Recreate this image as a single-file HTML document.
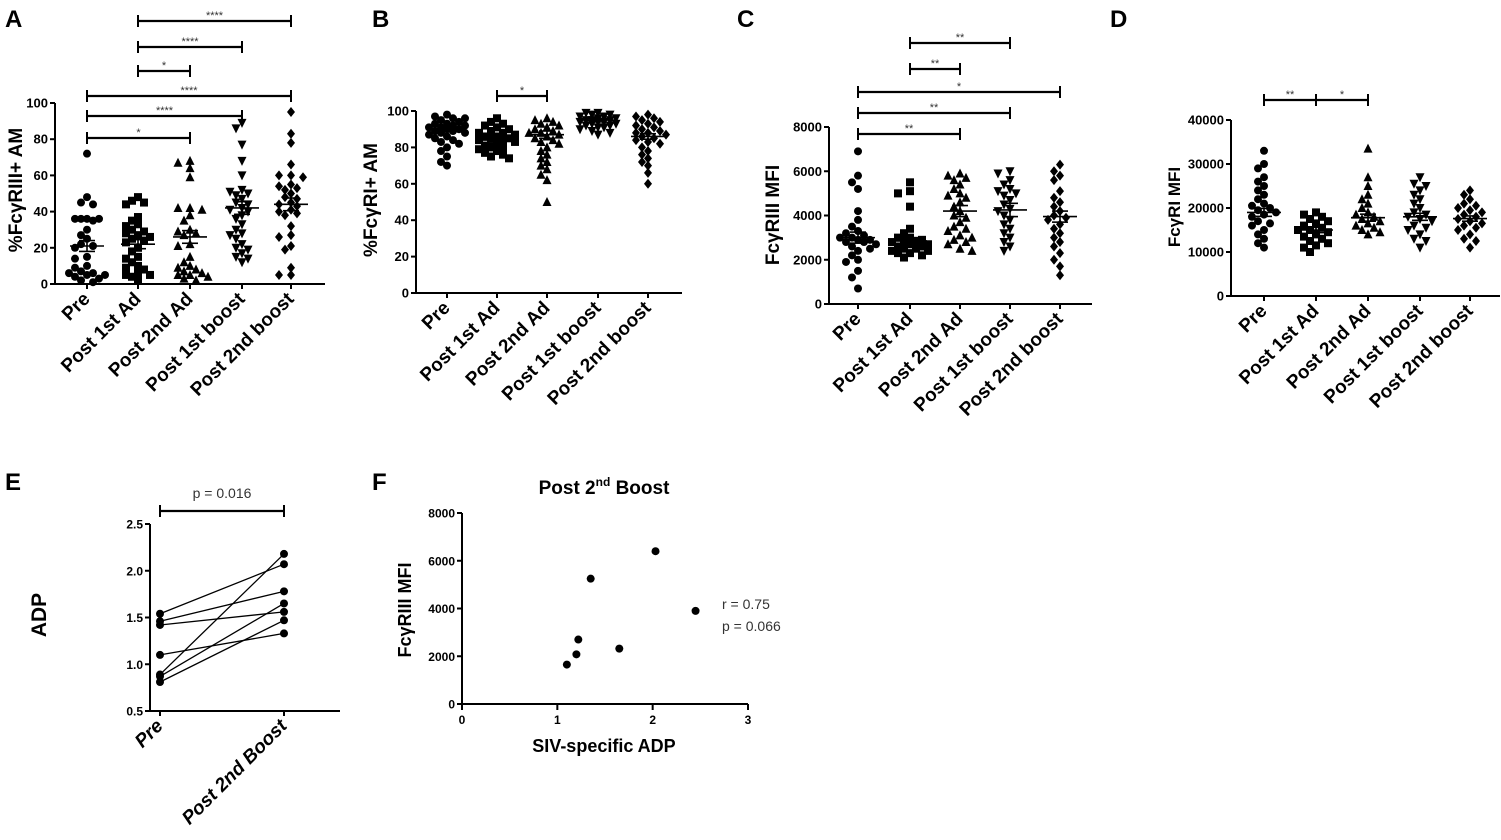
<!DOCTYPE html>
<html><head><meta charset="utf-8"><style>
body{margin:0;background:#fff}
svg{display:block;font-family:"Liberation Sans",sans-serif}
</style></head><body>
<svg id="fig" width="1501" height="840" viewBox="0 0 1501 840"></svg>
<script>
// ---------- data ----------
const catsABCD = ["Pre","Post 1st Ad","Post 2nd Ad","Post 1st boost","Post 2nd boost"];
const aPre=[72,48,45,44,36,36,36,36,35,30,27,25,22,21,20,15,14,10,9,7,6,6,5,5,4,3,2,1];
const aP1=[48,46,45,44,37,35,33,32,30,29,28,27,26,25,24,23,20,18,15,14,12,10,9,8,6,5,5,4,2];
const aP2=[68,67,64,59,42,42,41,38,35,30,29,28,27,22,21,15,12,10,9,8,7,6,5,5,4,3,2];
const aB1=[89,86,77,68,60,52,51,50,49,47,45,44,42,41,40,38,36,33,30,28,27,25,22,20,19,17,15,14,12];
const aB2=[95,83,78,66,60,60,59,55,54,53,52,50,48,47,45,44,43,41,40,39,38,32,27,26,21,19,9,5,5];
const aMean=[21,22,26,42,44]; const aSem=[3,2.5,3.5,3.5,3.5];
const bPre=[98,97,96,96,95,94,93,93,92,92,91,91,90,90,89,89,88,88,87,86,85,84,83,82,80,78,75,72,70];
const bP1=[96,94,93,92,91,90,89,88,88,87,86,86,85,85,84,84,83,82,81,80,80,79,78,77,76,75,74];
const bP2=[96,95,94,93,92,91,90,89,88,88,87,86,85,84,83,82,80,78,76,74,72,70,68,65,62,50];
const bB1=[99,99,98,98,97,97,96,96,95,95,95,94,94,94,93,93,92,92,91,91,90,89,88,87];
const bB2=[98,97,96,95,94,93,92,91,90,89,88,88,87,86,85,84,83,82,80,78,76,74,72,70,66,60];
const bMean=[90,84,87,95,86]; const bSem=[1.5,1.5,2,1,1.5];
const cPre=[6900,5800,5500,5200,4200,3800,3500,3300,3200,3100,3000,3000,2900,2900,2800,2800,2700,2600,2500,2400,2200,2000,1900,1500,1200,700];
const cP1=[5500,5100,5000,4400,3400,3200,3000,3000,2900,2900,2800,2800,2700,2700,2600,2600,2500,2500,2400,2400,2300,2300,2200,2100];
const cP2=[5900,5800,5700,5600,5400,5200,5000,4900,4800,4600,4400,4200,4000,3900,3700,3500,3400,3300,3100,3000,2900,2800,2700,2500,2400];
const cB1=[6000,5900,5600,5400,5200,5100,5000,4900,4700,4500,4300,4200,4000,3800,3600,3400,3200,3000,2800,2600,2400];
const cB2=[6300,6000,5800,5600,5100,4800,4600,4400,4200,4000,3900,3800,3600,3400,3200,3000,2800,2600,2300,2000,1700,1300];
const cMean=[3000,2850,4200,4250,3950]; const cSem=[250,150,250,300,250];
const dPre=[33000,30000,29000,27000,26000,25000,24000,23000,22000,21000,20500,20000,19500,19000,18500,18000,17000,16500,16000,15000,14000,13000,12000,11000];
const dP1=[19000,18500,18000,17500,17000,16500,16000,15500,15000,15000,14500,14000,13500,13000,12500,12000,11500,11000,10000];
const dP2=[33500,27000,25000,23000,22000,21000,20000,19000,18500,18000,17500,17000,16500,16000,15500,15000,14500,14000];
const dB1=[27000,25500,25000,24000,23000,22000,21000,20000,19000,18500,18000,17500,17000,16000,15500,15000,14000,13000,12500,11000];
const dB2=[24000,23000,22000,21000,20500,20000,19500,19000,18500,18000,17500,17000,16500,16000,15500,15000,14000,13000,12500,11000];
const dMean=[19000,15000,17800,18000,17600]; const dSem=[900,600,800,800,600];
const ePre=[1.54,1.46,1.42,1.10,0.89,0.87,0.81];
const ePost=[2.07,1.78,1.56,1.33,2.18,1.65,1.47];
const eCats=["Pre","Post 2nd Boost"];
const fX=[1.10,1.20,1.22,1.35,1.65,2.03,2.45];
const fY=[1650,2080,2700,5250,2320,6400,3900];
const aTicks=[0,20,40,60,80,100], bTicks=[0,20,40,60,80,100], cTicks=[0,2000,4000,6000,8000], dTicks=[0,10000,20000,30000,40000];
const eTicks=[0.5,1.0,1.5,2.0,2.5], fYTicks=[0,2000,4000,6000,8000], fXTicks=[0,1,2,3];

// ---------- helpers ----------
const svg=document.getElementById('fig');const NS="http://www.w3.org/2000/svg";
function mk(tag,attrs,parent,text){const e=document.createElementNS(NS,tag);for(const k in attrs)e.setAttribute(k,attrs[k]);if(text!==undefined)e.textContent=text;(parent||svg).appendChild(e);return e;}
function line(g,x1,y1,x2,y2,w){return mk('line',{x1,y1,x2,y2,stroke:'#000','stroke-width':w||2},g);}
function marker(g,shape,x,y){const r=4;let e;
 if(shape==='circle')e=mk('circle',{cx:x,cy:y,r:r},g);
 else if(shape==='square')e=mk('rect',{x:x-r,y:y-r,width:2*r,height:2*r},g);
 else if(shape==='up')e=mk('polygon',{points:`${x},${y-r-1} ${x-r-0.5},${y+r} ${x+r+0.5},${y+r}`},g);
 else if(shape==='down')e=mk('polygon',{points:`${x},${y+r+1} ${x-r-0.5},${y-r} ${x+r+0.5},${y-r}`},g);
 else e=mk('polygon',{points:`${x},${y-r-1} ${x+r},${y} ${x},${y+r+1} ${x-r},${y}`},g);
 e.setAttribute('fill','#000');return e;}
function rotLabel(g,x,y,t,size,name){const e=mk('text',{x,y,'text-anchor':'middle','font-size':size,'font-weight':'bold',transform:`rotate(-90 ${x} ${y})`},g,t);
 
 return e;}
function panelLetter(x,y,t){const e=mk('text',{x,y,'font-size':24,'font-weight':'bold'},svg,t);
 
 }
const shapes=['circle','square','up','down','diamond'];

function dotPanel(cfg){
 const g=mk('g',{});
 
 
 const ys=v=>cfg.y0+(cfg.y1-cfg.y0)*(v-cfg.vmin)/(cfg.vmax-cfg.vmin);
 line(g,cfg.ax,cfg.y0+1,cfg.ax,cfg.y1);
 line(g,cfg.ax,cfg.y0,cfg.axEnd,cfg.y0);
 cfg.ticks.forEach(t=>{const y=ys(t);line(g,cfg.ax-5,y,cfg.ax,y);
  const tl=mk('text',{x:cfg.ax-7,y:y+4.5,'text-anchor':'end','font-size':13,'font-weight':'bold'},g,t);
  
  });
 cfg.series.forEach((vals,i)=>{const cx=cfg.cx[i];line(g,cx,cfg.y0,cx,cfg.y0+5);
  const sg=mk('g',{},g);
  
  
  const placed=[];
  vals.slice().sort((a,b)=>b-a).forEach(v=>{const y=ys(v);
   const cands=[0,-6,6,-12,12,-18,18];let px=0,best=-1;
   for(const c of cands){const d=placed.length?Math.min(...placed.map(p=>Math.hypot(p[0]-c,p[1]-y))):99;
    if(d>=7){px=c;best=99;break;} if(d>best){best=d;px=c;}}
   placed.push([px,y]);const m=marker(sg,shapes[i],cx+px,y);
   
   });
  const m=ys(cfg.mean[i]),hi=ys(cfg.mean[i]+cfg.sem[i]),lo=ys(cfg.mean[i]-cfg.sem[i]);
  line(g,cx-17,m,cx+17,m,1.6);line(g,cx,hi,cx,lo,1.6);line(g,cx-8,hi,cx+8,hi,1.6);line(g,cx-8,lo,cx+8,lo,1.6);
  const tx=cx+4,ty=cfg.y0+16;
  const cl=mk('text',{x:tx,y:ty,'text-anchor':'end','font-size':19,'font-weight':'bold',transform:`rotate(-45 ${tx} ${ty})`},g,cfg.cats[i]);
  
  });
 (cfg.brackets||[]).forEach(b=>{const x1=cfg.cx[b[0]],x2=cfg.cx[b[1]],y=b[2];
  line(g,x1,y,x2,y,2.2);line(g,x1,y-6,x1,y+6,2);line(g,x2,y-6,x2,y+6,2);
  const st=mk('text',{x:(x1+x2)/2,y:y-2,'text-anchor':'middle','font-size':11,fill:'#333'},g,b[3]);
  
  });
 rotLabel(g,cfg.labX,cfg.labY,cfg.label,cfg.labSize||19,'y-axis-title');
}

dotPanel({name:'panel-a',ax:55,axEnd:325,y0:284,y1:103,vmin:0,vmax:100,ticks:aTicks,cx:[87,138,190,242,291],cats:catsABCD,
 series:[aPre,aP1,aP2,aB1,aB2],mean:aMean,sem:aSem,label:'%FcγRIII+ AM',labX:22,labY:190,
 brackets:[[0,2,138,'*'],[0,3,116,'****'],[0,4,96,'****'],[1,2,71,'*'],[1,3,47,'****'],[1,4,21,'****']]});
dotPanel({name:'panel-b',ax:416,axEnd:682,y0:293,y1:111,vmin:0,vmax:100,ticks:bTicks,cx:[447,497,547,598,648],cats:catsABCD,
 series:[bPre,bP1,bP2,bB1,bB2],mean:bMean,sem:bSem,label:'%FcγRI+ AM',labX:377,labY:200,
 brackets:[[1,2,96,'*']]});
dotPanel({name:'panel-c',ax:829,axEnd:1092,y0:304,y1:127,vmin:0,vmax:8000,ticks:cTicks,cx:[858,910,960,1010,1060],cats:catsABCD,
 series:[cPre,cP1,cP2,cB1,cB2],mean:cMean,sem:cSem,label:'FcγRIII MFI',labX:779,labY:215,
 brackets:[[0,2,134,'**'],[0,3,113,'**'],[0,4,92,'*'],[1,2,69,'**'],[1,3,43,'**']]});
dotPanel({name:'panel-d',ax:1231,axEnd:1500,y0:296,y1:120,vmin:0,vmax:40000,ticks:dTicks,cx:[1264,1316,1368,1420,1470],cats:catsABCD,
 series:[dPre,dP1,dP2,dB1,dB2],mean:dMean,sem:dSem,label:'FcγRI MFI',labX:1180,labY:207,labSize:17,
 brackets:[[0,1,100,'**'],[1,2,100,'*']]});

// Panel E
(function(){const g=mk('g',{});
 
 
 const ax=150,y0=711,y1=524,ys=v=>y0+(y1-y0)*(v-0.5)/2;const xs=[160,284];
 line(g,ax,y0+1,ax,y1);line(g,ax,y0,340,y0);
 eTicks.forEach(t=>{const y=ys(t);line(g,ax-5,y,ax,y);
  const tl=mk('text',{x:ax-7,y:y+4.5,'text-anchor':'end','font-size':12,'font-weight':'bold'},g,t.toFixed(1));
  
  });
 ePre.forEach((v,i)=>{const l=line(g,xs[0],ys(v),xs[1],ys(ePost[i]),1.3);
  
  
  const a=marker(g,'circle',xs[0],ys(v));
  const b=marker(g,'circle',xs[1],ys(ePost[i]));});
 eCats.forEach((c,i)=>{line(g,xs[i],y0,xs[i],y0+5);const tx=xs[i]+4,ty=y0+16;
  const cl=mk('text',{x:tx,y:ty,'text-anchor':'end','font-size':19,'font-weight':'bold','font-style':'italic',transform:`rotate(-45 ${tx} ${ty})`},g,c);
  
  });
 line(g,xs[0],511,xs[1],511,2.2);line(g,xs[0],505,xs[0],517);line(g,xs[1],505,xs[1],517);
 const p=mk('text',{x:222,y:498,'text-anchor':'middle','font-size':14,fill:'#333'},g,'p = 0.016');
 
 
 rotLabel(g,46,615,'ADP',21,'y-axis-title');
})();

// Panel F
(function(){const g=mk('g',{});
 
 
 const ax=462,y0=704,y1=513,ys=v=>y0+(y1-y0)*v/8000,xs=v=>ax+(748-ax)*v/3;
 line(g,ax,y0+1,ax,y1);line(g,ax,y0,748,y0);
 fYTicks.forEach(t=>{const y=ys(t);line(g,ax-5,y,ax,y);
  const tl=mk('text',{x:ax-7,y:y+4.5,'text-anchor':'end','font-size':12,'font-weight':'bold'},g,t);
  
  });
 fXTicks.forEach(t=>{const x=xs(t);line(g,x,y0,x,y0+6);
  const tl=mk('text',{x,y:y0+20,'text-anchor':'middle','font-size':12,'font-weight':'bold'},g,t);
  
  });
 fX.forEach((v,i)=>{const m=marker(g,'circle',xs(v),ys(fY[i]));
  
  });
 const t=mk('text',{x:604,y:494,'text-anchor':'middle','font-size':19,'font-weight':'bold'},g);
 
 
 t.innerHTML='Post 2<tspan dy="-8" font-size="12">nd</tspan><tspan dy="8"> Boost</tspan>';
 const r=mk('text',{x:722,y:609,'font-size':14,fill:'#333'},g,'r  = 0.75');
 
 const p=mk('text',{x:722,y:631,'font-size':14,fill:'#333'},g,'p = 0.066');
 
 const xl=mk('text',{x:604,y:752,'text-anchor':'middle','font-size':18,'font-weight':'bold'},g,'SIV-specific ADP');
 
 rotLabel(g,411,610,'FcγRIII MFI',18,'y-axis-title');
})();

panelLetter(5,27,'A');panelLetter(372,27,'B');panelLetter(737,27,'C');panelLetter(1110,27,'D');panelLetter(5,490,'E');panelLetter(372,490,'F');
</script>
</body></html>
